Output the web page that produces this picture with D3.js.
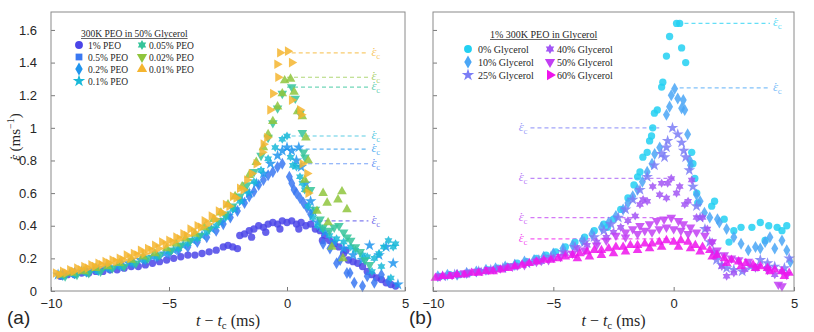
<!DOCTYPE html>
<html>
<head>
<meta charset="utf-8">
<script src="https://cdn.jsdelivr.net/npm/d3@7"></script>
<style>
  body { margin: 0; background: #fff; }
  text { fill: #262626; }
</style>
</head>
<body>
<div id="chart"></div>
<script>
// ---------- Panel (a): 300K PEO in 50% glycerol ----------
const peoLabels = ["1% PEO", "0.5% PEO", "0.2% PEO", "0.1% PEO", "0.05% PEO", "0.02% PEO", "0.01% PEO"];
const peoCritical = [0.43, 0.78, 0.87, 0.95, 1.25, 1.31, 1.46];
const peoCriticalFrom = [1.0, 0.3, -0.1, -0.1, 0.0, 0.0, 0.2];

const peo1 = [[-9.6,0.09],[-9.3,0.10],[-9.0,0.10],[-8.7,0.11],[-8.4,0.11],[-8.1,0.12],[-7.8,0.12],[-7.5,0.13],[-7.2,0.13],[-6.9,0.14],[-6.6,0.15],[-6.3,0.15],[-6.0,0.16],[-5.7,0.17],[-5.4,0.18],[-5.1,0.19],[-4.8,0.20],[-4.5,0.21],[-4.2,0.22],[-3.9,0.22],[-3.6,0.23],[-3.3,0.24],[-3.0,0.25],[-2.7,0.27],[-2.5,0.28],[-2.3,0.27],[-2.1,0.26],[-2.0,0.34],[-1.8,0.35],[-1.6,0.37],[-1.5,0.33],[-1.4,0.38],[-1.2,0.40],[-1.0,0.39],[-0.9,0.36],[-0.8,0.41],[-0.6,0.42],[-0.4,0.41],[-0.3,0.38],[-0.2,0.43],[0.0,0.42],[0.2,0.43],[0.4,0.41],[0.5,0.38],[0.6,0.42],[0.8,0.40],[1.0,0.41],[1.2,0.38],[1.4,0.37],[1.5,0.31],[1.6,0.34],[1.8,0.31],[2.0,0.29],[2.2,0.27],[2.4,0.23],[2.5,0.25],[2.6,0.19],[2.8,0.18],[3.0,0.17],[3.2,0.15],[3.4,0.12],[3.6,0.10],[3.8,0.08],[4.0,0.07],[4.2,0.05],[4.4,0.04],[4.6,0.03]];
const peo05 = [[-9.5,0.10],[-9.0,0.11],[-8.5,0.12],[-8.0,0.13],[-7.5,0.14],[-7.0,0.16],[-6.5,0.17],[-6.0,0.19],[-5.5,0.21],[-5.0,0.23],[-4.6,0.25],[-4.2,0.27],[-3.8,0.30],[-3.4,0.33],[-3.0,0.37],[-2.7,0.41],[-2.4,0.45],[-2.1,0.49],[-1.8,0.54],[-1.6,0.58],[-1.4,0.61],[-1.2,0.65],[-1.0,0.68],[-0.8,0.71],[-0.6,0.73],[-0.4,0.76],[-0.2,0.78],[0.1,0.70],[0.2,0.66],[0.3,0.62],[0.4,0.60],[0.55,0.57],[0.7,0.54],[0.85,0.51],[1.0,0.47],[1.53,0.29],[1.82,0.26],[2.1,0.17],[2.25,0.19],[2.54,0.11],[2.67,0.11],[2.85,0.05],[3.2,0.03],[3.4,0.09],[3.7,0.05],[4.0,0.10],[4.3,0.06]];
const peo02 = [[-9.7,0.10],[-9.2,0.11],[-8.7,0.12],[-8.2,0.13],[-7.7,0.14],[-7.2,0.15],[-6.7,0.17],[-6.2,0.19],[-5.7,0.21],[-5.2,0.23],[-4.8,0.25],[-4.4,0.28],[-4.0,0.31],[-3.6,0.34],[-3.2,0.38],[-2.8,0.42],[-2.5,0.46],[-2.2,0.50],[-1.9,0.55],[-1.6,0.60],[-1.3,0.66],[-1.0,0.72],[-0.7,0.78],[-0.4,0.83],[-0.2,0.86],[0.0,0.88],[0.2,0.86],[0.5,0.88],[0.4,0.80],[0.6,0.76],[0.8,0.66],[1.0,0.55],[1.1,0.49],[1.3,0.42],[1.6,0.36],[2.0,0.30],[2.4,0.26],[2.8,0.22],[3.2,0.19],[3.5,0.28],[3.9,0.22],[4.2,0.27],[4.5,0.17],[4.7,0.04]];
const peo01 = [[-9.5,0.09],[-9.0,0.10],[-8.5,0.11],[-8.0,0.12],[-7.5,0.14],[-7.0,0.15],[-6.5,0.17],[-6.0,0.19],[-5.5,0.21],[-5.0,0.24],[-4.6,0.26],[-4.2,0.29],[-3.8,0.32],[-3.4,0.36],[-3.0,0.40],[-2.6,0.45],[-2.3,0.50],[-2.0,0.55],[-1.7,0.61],[-1.4,0.67],[-1.1,0.74],[-0.8,0.81],[-0.5,0.88],[-0.2,0.93],[0.0,0.95],[0.15,0.82],[0.25,0.77],[0.4,0.76],[0.55,0.70],[0.65,0.66],[0.75,0.62],[0.9,0.52],[1.1,0.45],[1.3,0.40],[1.5,0.38],[1.8,0.34],[2.1,0.32],[2.4,0.30],[2.7,0.27],[2.9,0.25],[3.2,0.22],[3.4,0.21],[3.6,0.12],[3.7,0.20],[3.9,0.23],[4.0,0.15],[4.1,0.27],[4.3,0.31],[4.4,0.08],[4.5,0.27],[4.6,0.29]];
const peo005 = [[-9.4,0.09],[-8.9,0.10],[-8.4,0.11],[-7.9,0.12],[-7.4,0.14],[-6.9,0.15],[-6.4,0.17],[-5.9,0.20],[-5.4,0.22],[-4.9,0.25],[-4.5,0.28],[-4.1,0.31],[-3.7,0.34],[-3.3,0.38],[-2.9,0.43],[-2.6,0.47],[-2.3,0.52],[-2.0,0.58],[-1.7,0.65],[-1.4,0.73],[-1.1,0.83],[-0.8,0.94],[-0.6,1.03],[-0.4,1.12],[-0.2,1.21],[0.2,1.25],[0.35,1.18],[0.55,1.09],[0.65,0.97],[0.7,0.85],[0.76,0.82],[1.0,0.62],[1.2,0.50],[1.4,0.44],[1.53,0.39],[1.8,0.37],[2.0,0.39],[2.2,0.40],[2.4,0.36],[2.55,0.33],[2.7,0.31],[2.9,0.27],[3.1,0.24],[3.3,0.19],[3.5,0.16]];
const peo002 = [[-9.6,0.10],[-9.1,0.11],[-8.6,0.12],[-8.1,0.14],[-7.6,0.15],[-7.1,0.17],[-6.6,0.19],[-6.1,0.21],[-5.6,0.23],[-5.1,0.26],[-4.7,0.29],[-4.3,0.32],[-3.9,0.35],[-3.5,0.39],[-3.1,0.44],[-2.8,0.48],[-2.5,0.53],[-2.2,0.58],[-1.9,0.64],[-1.6,0.71],[-1.3,0.79],[-1.0,0.88],[-0.8,0.96],[-0.6,1.04],[-0.4,1.13],[-0.2,1.21],[-0.1,1.29],[0.15,1.30],[0.3,1.22],[0.45,1.10],[0.65,1.07],[0.8,0.94],[0.9,0.80],[0.75,0.68],[0.85,0.62],[1.27,0.49],[1.53,0.60],[1.7,0.54],[1.74,0.42],[1.9,0.27],[2.16,0.56],[2.33,0.61],[2.54,0.50],[2.37,0.20]];
const peo001 = [[-9.8,0.11],[-9.65,0.10],[-9.5,0.12],[-9.35,0.11],[-9.2,0.13],[-9.05,0.12],[-8.9,0.14],[-8.75,0.13],[-8.6,0.15],[-8.45,0.14],[-8.3,0.16],[-8.15,0.15],[-8.0,0.17],[-7.85,0.16],[-7.7,0.18],[-7.55,0.17],[-7.4,0.19],[-7.25,0.18],[-7.1,0.20],[-6.95,0.19],[-6.8,0.22],[-6.65,0.20],[-6.5,0.23],[-6.35,0.22],[-6.2,0.25],[-6.05,0.23],[-5.9,0.26],[-5.75,0.25],[-5.6,0.28],[-5.45,0.26],[-5.3,0.30],[-5.15,0.28],[-5.0,0.31],[-4.85,0.30],[-4.7,0.33],[-4.55,0.32],[-4.4,0.35],[-4.25,0.34],[-4.1,0.38],[-3.95,0.36],[-3.8,0.40],[-3.65,0.39],[-3.5,0.43],[-3.35,0.41],[-3.2,0.46],[-3.05,0.44],[-2.9,0.49],[-2.75,0.48],[-2.6,0.53],[-2.45,0.52],[-2.3,0.58],[-2.15,0.57],[-2.0,0.63],[-1.85,0.62],[-1.7,0.68],[-1.5,0.72],[-1.3,0.78],[-1.05,0.85],[-1.0,0.90],[-0.85,0.94],[-0.72,1.11],[-0.6,1.21],[-0.42,1.39],[-0.38,1.31],[-0.3,1.46],[0.03,1.47],[0.2,1.40],[0.2,1.17],[0.55,1.11],[0.6,1.08],[0.65,0.78],[0.85,0.72],[0.9,0.60]];

// ---------- Panel (b): 1% 300K PEO in glycerol ----------
const glyLabels = ["0% Glycerol", "10% Glycerol", "25% Glycerol", "40% Glycerol", "50% Glycerol", "60% Glycerol"];
const glyCritical = [1.64, 1.245, 1.0, 0.69, 0.45, 0.32];
const glyCriticalFrom = [0.45, 0.25, -5.95, -5.95, -5.95, -5.95];
const glyCriticalTo = [4.0, 4.0, -0.6, 0.05, 0.0, 0.0];

const gly0 = [[-9.7,0.09],[-9.3,0.10],[-8.9,0.10],[-8.5,0.11],[-8.1,0.12],[-7.7,0.13],[-7.3,0.14],[-6.9,0.15],[-6.5,0.17],[-6.1,0.18],[-5.7,0.20],[-5.3,0.22],[-4.9,0.24],[-4.5,0.27],[-4.1,0.30],[-3.7,0.33],[-3.3,0.37],[-2.9,0.41],[-2.75,0.39],[-2.5,0.44],[-2.2,0.50],[-1.9,0.57],[-1.65,0.65],[-1.5,0.70],[-1.4,0.73],[-1.28,0.82],[-1.1,0.85],[-1.0,0.92],[-0.92,0.95],[-0.87,1.00],[-0.8,1.09],[-0.68,1.11],[-0.5,1.25],[-0.45,1.28],[-0.3,1.44],[-0.17,1.56],[0.12,1.64],[0.25,1.64],[0.33,1.49],[0.5,1.40],[0.75,0.85],[0.8,0.78],[0.88,0.69],[0.96,0.60],[1.0,0.54],[1.58,0.52],[1.7,0.55],[2.1,0.44],[2.3,0.30],[2.5,0.37],[2.8,0.39],[3.25,0.39],[3.6,0.42],[3.8,0.31],[3.95,0.40],[4.3,0.39],[4.5,0.37],[4.7,0.40]];
const gly10 = [[-9.8,0.09],[-9.4,0.10],[-9.0,0.10],[-8.6,0.11],[-8.2,0.12],[-7.8,0.13],[-7.4,0.14],[-7.0,0.15],[-6.6,0.16],[-6.2,0.18],[-5.8,0.19],[-5.4,0.21],[-5.0,0.23],[-4.6,0.26],[-4.2,0.28],[-3.8,0.31],[-3.4,0.35],[-3.0,0.39],[-2.7,0.42],[-2.4,0.46],[-2.1,0.50],[-1.9,0.54],[-1.7,0.58],[-1.5,0.62],[-1.3,0.67],[-1.1,0.73],[-0.9,0.78],[-0.79,0.84],[-0.58,0.88],[-0.3,1.08],[-0.17,1.13],[-0.1,1.20],[0.04,1.24],[0.17,1.18],[0.33,1.12],[0.4,1.17],[0.46,1.11],[0.58,0.96],[0.67,0.80],[0.7,0.77],[0.95,0.59],[1.1,0.55],[1.28,0.48],[1.5,0.45],[1.82,0.44],[1.9,0.42],[2.2,0.38],[2.5,0.33],[2.8,0.29],[3.1,0.25],[3.4,0.27],[3.6,0.26],[3.8,0.30],[4.0,0.33],[4.2,0.26],[4.5,0.31],[4.7,0.25],[4.85,0.18]];
const gly25 = [[-9.6,0.09],[-9.1,0.10],[-8.6,0.11],[-8.1,0.12],[-7.6,0.13],[-7.1,0.14],[-6.6,0.16],[-6.1,0.17],[-5.6,0.19],[-5.1,0.21],[-4.6,0.24],[-4.1,0.27],[-3.7,0.30],[-3.3,0.33],[-2.9,0.37],[-2.6,0.41],[-2.3,0.45],[-2.0,0.50],[-1.7,0.56],[-1.4,0.62],[-1.1,0.70],[-0.8,0.77],[-0.5,0.84],[-0.38,0.82],[-0.3,0.88],[-0.25,0.92],[-0.05,1.00],[0.17,0.96],[0.33,0.91],[0.42,0.86],[0.5,0.82],[0.65,0.74],[0.8,0.64],[0.95,0.52],[1.1,0.45],[1.3,0.38],[1.5,0.30],[1.65,0.24],[1.78,0.19],[2.0,0.16],[2.2,0.14],[2.5,0.13],[2.85,0.12],[3.2,0.15],[3.6,0.19],[3.9,0.17],[4.2,0.15],[4.6,0.14],[4.8,0.20]];
const gly40 = [[-9.5,0.09],[-9.0,0.10],[-8.5,0.11],[-8.0,0.12],[-7.5,0.13],[-7.0,0.14],[-6.5,0.15],[-6.0,0.17],[-5.5,0.18],[-5.0,0.20],[-4.5,0.23],[-4.0,0.26],[-3.6,0.28],[-3.2,0.30],[-2.8,0.33],[-2.5,0.36],[-2.2,0.39],[-1.9,0.43],[-1.6,0.46],[-1.4,0.53],[-1.27,0.56],[-1.1,0.55],[-0.87,0.64],[-0.58,0.59],[-0.5,0.66],[-0.3,0.57],[-0.25,0.66],[-0.1,0.69],[0.12,0.60],[0.25,0.64],[0.46,0.53],[0.6,0.55],[0.75,0.68],[0.95,0.45],[1.2,0.45],[1.4,0.38],[1.6,0.30],[1.8,0.22],[2.0,0.15],[2.2,0.09],[2.5,0.11],[2.95,0.13],[3.4,0.14],[3.9,0.14],[4.2,0.10],[4.5,0.12]];
const gly50 = [[-9.7,0.09],[-9.2,0.10],[-8.7,0.11],[-8.2,0.12],[-7.7,0.13],[-7.2,0.14],[-6.7,0.15],[-6.2,0.16],[-5.7,0.18],[-5.2,0.19],[-4.7,0.21],[-4.2,0.23],[-3.7,0.25],[-3.2,0.28],[-2.8,0.31],[-2.4,0.34],[-2.0,0.36],[-2.0,0.33],[-1.7,0.38],[-1.5,0.35],[-1.4,0.40],[-1.2,0.37],[-1.0,0.41],[-0.9,0.36],[-0.7,0.43],[-0.6,0.38],[-0.4,0.44],[-0.3,0.39],[-0.1,0.45],[0.0,0.38],[0.2,0.43],[0.3,0.37],[0.4,0.41],[0.6,0.35],[0.7,0.39],[0.95,0.36],[1.3,0.34],[1.6,0.30],[1.8,0.25],[2.1,0.22],[2.4,0.20],[2.7,0.19],[3.1,0.18],[3.5,0.15],[3.9,0.13],[4.35,0.04],[4.5,0.03],[4.7,0.10]];
const gly60 = [[-9.9,0.08],[-9.6,0.09],[-9.3,0.09],[-9.0,0.10],[-8.7,0.10],[-8.4,0.11],[-8.1,0.11],[-7.8,0.12],[-7.5,0.12],[-7.2,0.13],[-6.9,0.14],[-6.6,0.15],[-6.3,0.16],[-6.0,0.17],[-5.7,0.18],[-5.4,0.19],[-5.1,0.19],[-4.8,0.20],[-4.5,0.21],[-4.2,0.22],[-4.0,0.20],[-3.9,0.23],[-3.6,0.24],[-3.5,0.21],[-3.3,0.25],[-3.0,0.25],[-3.0,0.22],[-2.7,0.26],[-2.5,0.23],[-2.4,0.27],[-2.1,0.27],[-2.0,0.24],[-1.8,0.28],[-1.5,0.28],[-1.5,0.25],[-1.2,0.29],[-1.0,0.26],[-0.9,0.29],[-0.6,0.30],[-0.5,0.27],[-0.3,0.31],[0.0,0.30],[0.2,0.27],[0.3,0.31],[0.6,0.30],[0.7,0.26],[0.9,0.28],[1.1,0.24],[1.2,0.27],[1.5,0.25],[1.6,0.21],[1.8,0.22],[2.1,0.20],[2.2,0.17],[2.4,0.19],[2.7,0.18],[2.8,0.15],[3.0,0.17],[3.3,0.16],[3.4,0.14],[3.6,0.15],[3.9,0.14],[4.0,0.12],[4.2,0.13],[4.5,0.12],[4.6,0.09],[4.8,0.11]];

// Set the dimensions of the graph
const width = 814, height = 332;
const plotTop = 12, plotHeight = 279;
const serif = "'Liberation Serif', 'DejaVu Serif', serif";

const svg = d3.select("#chart")
    .append("svg")
    .attr("width", width)
    .attr("height", height);

// A six-pointed star, which d3 does not ship
const symbolHexagram = {
  draw(context, size) {
    const r = Math.sqrt(size) * 0.72, ri = r / Math.sqrt(3);
    for (let i = 0; i < 12; i++) {
      const a = Math.PI / 6 * i - Math.PI / 2, rr = i % 2 ? ri : r;
      if (i === 0) context.moveTo(rr * Math.cos(a), rr * Math.sin(a));
      else context.lineTo(rr * Math.cos(a), rr * Math.sin(a));
    }
    context.closePath();
  }
};
const marks = {
  circle:   { type: d3.symbolCircle, size: 42, rot: 0 },
  square:   { type: d3.symbolSquare, size: 40, rot: 0 },
  diamond:  { type: d3.symbolDiamond, size: 42, rot: 0 },
  star:     { type: d3.symbolStar, size: 42, rot: 0 },
  hexagram: { type: symbolHexagram, size: 40, rot: 0 },
  triDown:  { type: d3.symbolTriangle, size: 40, rot: 180 },
  triUp:    { type: d3.symbolTriangle, size: 40, rot: 0 },
  triRight: { type: d3.symbolTriangle, size: 40, rot: 90 }
};

function symbolPath(m, scale) {
  return d3.symbol().type(m.type).size(m.size * (scale || 1))();
}

// epsilon with a dot over it
function epsDot(sel) {
  sel.append("tspan").attr("font-style", "italic").text("\u03B5");
  sel.append("tspan").attr("dx", "-0.36em").text("\u02D9");
}

function drawPanel(p) {
  const g = svg.append("g").attr("transform", `translate(${p.left},${plotTop})`);

  // Set the scales
  const x = d3.scaleLinear().domain([-10, 5]).range([0, p.width]);
  const y = d3.scaleLinear().domain([0, 1.71]).range([plotHeight, 0]);

  // Add the x-axis
  const xAxis = g.append("g")
      .attr("transform", `translate(0,${plotHeight})`)
      .call(d3.axisBottom(x).tickValues([-10, -5, 0, 5]).tickSize(-4).tickPadding(8));

  // Add the y-axis
  const yAxis = g.append("g")
      .call(d3.axisLeft(y).tickValues([0, 0.2, 0.4, 0.6, 0.8, 1, 1.2, 1.4, 1.6])
        .tickSize(-4).tickPadding(14).tickFormat(p.yLabels ? d => String(d) : ""));

  [xAxis, yAxis].forEach(a => {
    a.select(".domain").remove();
    a.selectAll("line").attr("stroke", "#7a7a7a");
    a.selectAll("text").attr("font-family", "'Liberation Sans', Arial, sans-serif")
      .attr("font-size", 13).attr("fill", "#262626");
  });

  // Critical strain rate guides
  p.series.forEach(s => {
    const x0 = x(s.from), x1 = x(s.to), yy = y(s.crit);
    g.append("line")
        .attr("x1", x0).attr("x2", x1).attr("y1", yy).attr("y2", yy)
        .attr("stroke", s.color).attr("stroke-opacity", 0.7)
        .attr("stroke-width", 1.2).attr("stroke-dasharray", "4,3");
    const lbl = g.append("text")
        .attr("x", s.labelSide === "left" ? x0 - 3 : x1 + 3)
        .attr("y", yy + 3)
        .attr("text-anchor", s.labelSide === "left" ? "end" : "start")
        .attr("font-family", serif)
        .attr("font-size", 13)
        .style("fill", s.color).style("fill-opacity", 0.75);
    epsDot(lbl);
    lbl.append("tspan").attr("font-size", 9).attr("dy", 3).text("c");
  });

  // Add the scatter points for each series
  p.series.forEach(s => {
    const m = marks[s.plotMark];
    g.append("g").selectAll("path")
      .data(s.data)
      .enter().append("path")
        .attr("d", symbolPath(m))
        .attr("transform", d => `translate(${x(d[0])},${y(d[1])}) rotate(${m.rot})`)
        .attr("fill", s.color)
        .attr("fill-opacity", 0.85);
  });

  // Frame
  g.append("rect")
      .attr("width", p.width).attr("height", plotHeight)
      .attr("fill", "none").attr("stroke", "#8a8a8a").attr("stroke-width", 1);

  // Legend
  const title = svg.append("text")
      .attr("x", p.legend.titleX).attr("y", p.legend.titleY)
      .attr("font-family", serif).attr("font-size", p.legend.fontSize)
      .text(p.legend.title);
  const tw = title.node().getComputedTextLength();
  svg.append("line")
      .attr("x1", p.legend.titleX).attr("x2", p.legend.titleX + tw)
      .attr("y1", p.legend.titleY + 1.5).attr("y2", p.legend.titleY + 1.5)
      .attr("stroke", "#262626").attr("stroke-width", 0.7);

  p.series.forEach((s, i) => {
    const col = i < p.legend.perCol ? 0 : 1, row = i % p.legend.perCol;
    const mx = p.legend.markX[col], ty = p.legend.rowY[row];
    const m = marks[s.legendMark];
    svg.append("path")
        .attr("d", symbolPath(m, 1.15))
        .attr("transform", `translate(${mx},${ty}) rotate(${m.rot})`)
        .attr("fill", s.color);
    svg.append("text")
        .attr("x", p.legend.textX[col]).attr("y", ty + 3.5)
        .attr("font-family", serif).attr("font-size", p.legend.fontSize)
        .text(s.name);
  });

  // Axis labels
  const xl = svg.append("text")
      .attr("x", p.left + p.width / 2).attr("y", 326)
      .attr("text-anchor", "middle")
      .attr("font-family", serif).attr("font-size", 16);
  xl.append("tspan").attr("font-style", "italic").text("t");
  xl.append("tspan").text(" \u2212 ");
  xl.append("tspan").attr("font-style", "italic").text("t");
  xl.append("tspan").attr("font-size", 11).attr("dy", 3).text("c");
  xl.append("tspan").attr("dy", -3).text(" (ms)");

  svg.append("text")
      .attr("x", p.tagX).attr("y", 324)
      .attr("font-family", "'Liberation Sans', Arial, sans-serif")
      .attr("font-size", 19)
      .text(p.tag);
}

const peoColors = ["#4b45e8", "#3a78f2", "#2095ee", "#18b8d8", "#35c49a", "#8fc53d", "#f5b52f"];
const peoPlotMarks = ["circle", "diamond", "star", "hexagram", "triDown", "triUp", "triRight"];
const peoLegendMarks = ["circle", "square", "diamond", "star", "hexagram", "triDown", "triUp"];
const peoData = [peo1, peo05, peo02, peo01, peo005, peo002, peo001];

drawPanel({
  left: 51, width: 354, yLabels: true, tag: "(a)", tagX: 7,
  series: peoLabels.map((name, i) => ({
    name, data: peoData[i], color: peoColors[i],
    plotMark: peoPlotMarks[i], legendMark: peoLegendMarks[i],
    crit: peoCritical[i], from: peoCriticalFrom[i], to: 3.45, labelSide: "right"
  })),
  legend: {
    title: "300K PEO in 50% Glycerol", titleX: 81, titleY: 37, fontSize: 9.5,
    perCol: 4, markX: [79, 142], textX: [88, 149], rowY: [45, 57, 69, 81]
  }
});

const glyColors = ["#22d0f2", "#4aa6f6", "#7b7df6", "#a255f5", "#c23ff3", "#ef14ec"];
const glyPlotMarks = ["circle", "diamond", "star", "hexagram", "triDown", "triUp"];
const glyLegendMarks = ["circle", "diamond", "star", "hexagram", "triDown", "triRight"];
const glyData = [gly0, gly10, gly25, gly40, gly50, gly60];

drawPanel({
  left: 433, width: 361, yLabels: false, tag: "(b)", tagX: 409,
  series: glyLabels.map((name, i) => ({
    name, data: glyData[i], color: glyColors[i],
    plotMark: glyPlotMarks[i], legendMark: glyLegendMarks[i],
    crit: glyCritical[i], from: glyCriticalFrom[i], to: glyCriticalTo[i],
    labelSide: i < 2 ? "right" : "left"
  })),
  legend: {
    title: "1% 300K PEO in Glycerol", titleX: 490, titleY: 38, fontSize: 10,
    perCol: 3, markX: [468, 550], textX: [478, 557], rowY: [49, 62, 75]
  }
});

// Y-axis label for panel (a)
const yl = svg.append("text")
    .attr("transform", "translate(20,137) rotate(-90)")
    .attr("text-anchor", "middle")
    .attr("font-family", serif)
    .attr("font-size", 15);
epsDot(yl);
yl.append("tspan").text(" (ms");
yl.append("tspan").attr("font-size", 10).attr("dy", -6).text("\u22121");
yl.append("tspan").attr("dy", 6).text(")");
</script>
</body>
</html>
